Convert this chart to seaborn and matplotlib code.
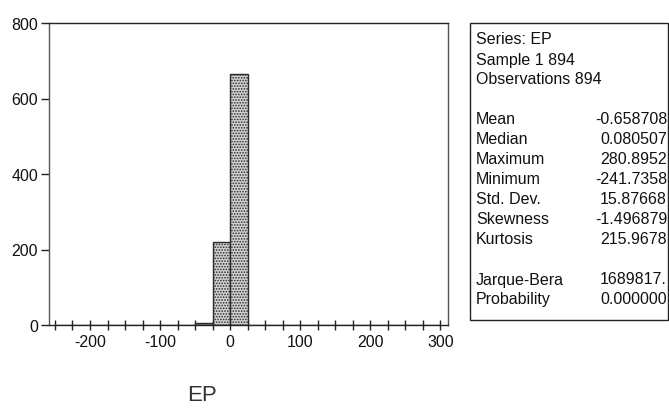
import numpy as np
import pandas as pd
import matplotlib
matplotlib.use("Agg")
import matplotlib.pyplot as plt
import seaborn as sns

# ---- data ----
bin_edges = list(range(-250, 301, 25))
bin_counts = [1, 0, 1, 0, 0, 0, 0, 0, 4, 221, 664, 1, 1, 0, 0, 0, 0, 0, 0, 0, 0, 1]
y_ticks = [0, 200, 400, 600, 800]
x_ticks_major = [-200, -100, 0, 100, 200, 300]
x_label = "EP"
stat_header = ["Series: EP", "Sample 1 894", "Observations 894"]
stat_names = ["Mean", "Median", "Maximum", "Minimum", "Std. Dev.", "Skewness", "Kurtosis"]
stat_values = ["-0.658708", "0.080507", "280.8952", "-241.7358", "15.87668", "-1.496879", "215.9678"]
test_names = ["Jarque-Bera", "Probability"]
test_values = ["1689817.", "0.000000"]

sns.set_theme(style="white")
plt.rcParams['font.family'] = ['Liberation Sans', 'DejaVu Sans']
plt.rcParams['axes.unicode_minus'] = False
plt.rcParams['hatch.color'] = '#6a6a6a'
plt.rcParams['hatch.linewidth'] = 0.8

W, H = 669, 410
fig = plt.figure(figsize=(W / 100, H / 100), dpi=100)
ax = fig.add_axes([49 / W, 1 - 326 / H, (448 - 49) / W, (326 - 24) / H])

centers = [(a + b) / 2 for a, b in zip(bin_edges[:-1], bin_edges[1:])]
df = pd.DataFrame({"x": centers, "w": bin_counts})
sns.histplot(data=df, x="x", weights="w", bins=bin_edges, ax=ax,
             color="#d2d2d2", edgecolor="#2a2a2a", linewidth=1.0, alpha=1)
for p in ax.patches:
    p.set_hatch('......')

ax.set_xlim(-258.5, 311)
ax.set_ylim(0, 800)
ax.set_yticks(y_ticks)
ax.set_xticks(x_ticks_major)
ax.set_xticks(bin_edges, minor=True)
ax.set_xlabel("")
ax.set_ylabel("")
ax.tick_params(axis='y', which='major', direction='out', length=6, width=1, color='#222',
               labelsize=11.5, labelcolor='#111', pad=2, left=True)
ax.tick_params(axis='x', which='both', direction='inout', length=7, width=1, color='#222',
               labelsize=11.5, labelcolor='#111', pad=3, bottom=True)
ax.tick_params(axis='x', which='minor', bottom=True)
for s in ax.spines.values():
    s.set_color('#222')
    s.set_linewidth(1.0)
ax.spines['left'].set_color('#555')
ax.spines['right'].set_color('#555')
ax.grid(False)

fig.text(202 / W, 1 - 396 / H, x_label, ha='center', va='center', fontsize=16, color='#333')

# ---- statistics box ----
bx0, bx1, by0, by1 = 470, 668, 24, 321
fig.patches.append(plt.Rectangle((bx0 / W, 1 - by1 / H), (bx1 - bx0) / W, (by1 - by0) / H,
                                 transform=fig.transFigure, fill=False, edgecolor='#222', linewidth=1.0))
lx, rx = 476, 667
y = 40
for t in stat_header:
    fig.text(lx / W, 1 - y / H, t, ha='left', va='center', fontsize=11.5, color='#111')
    y += 20
y += 20
for n, v in zip(stat_names, stat_values):
    fig.text(lx / W, 1 - y / H, n, ha='left', va='center', fontsize=11.5, color='#111')
    fig.text(rx / W, 1 - y / H, v, ha='right', va='center', fontsize=11.5, color='#111')
    y += 20
y += 20
for n, v in zip(test_names, test_values):
    fig.text(lx / W, 1 - y / H, n, ha='left', va='center', fontsize=11.5, color='#111')
    fig.text(rx / W, 1 - y / H, v, ha='right', va='center', fontsize=11.5, color='#111')
    y += 20

fig.savefig("out.png", dpi=100)
